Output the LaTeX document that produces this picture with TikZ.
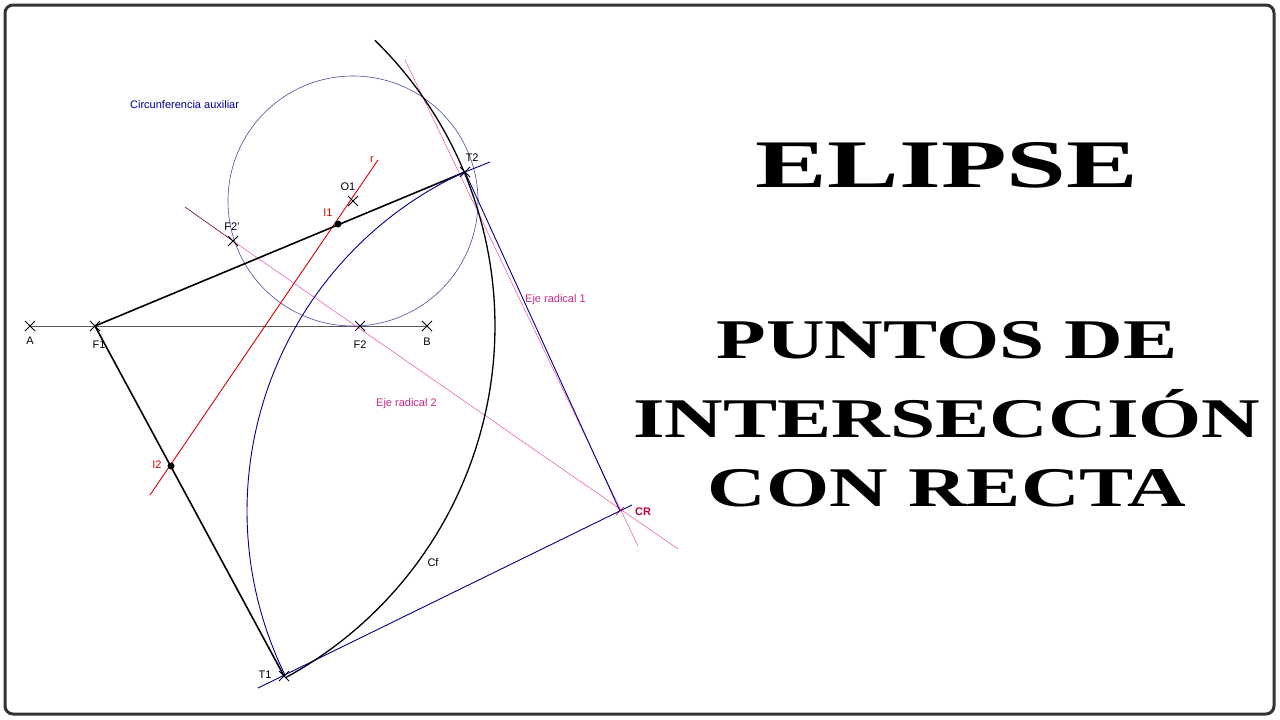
\documentclass[tikz,border=0pt]{standalone}
\usepackage{fontspec}
\setmainfont{Liberation Serif}
\setsansfont{Liberation Sans}
\usetikzlibrary{calc}
\begin{document}
\begin{tikzpicture}[x=1pt,y=-1pt,
 lbl/.style={font=\sffamily\fontsize{11}{11}\selectfont,inner sep=0pt},
 ttl/.style={font=\bfseries\fontsize{56}{56}\selectfont,inner sep=0pt,xscale=1.45},
 thk/.style={line width=1.6pt,black},
 bl/.style={line width=0.9pt,blue!55!black}]
\useasboundingbox (0,0) rectangle (1280,720);
\fill[white] (0,0) rectangle (1280,720);
\draw[line width=3pt,black!80,rounded corners=8pt] (5,5) rectangle (1274,714);
% points
\coordinate (A) at (30,326); \coordinate (B) at (427,326);
\coordinate (F1) at (95,326); \coordinate (F2) at (360,326);
\coordinate (O1) at (353,201); \coordinate (T2) at (465,172);
\coordinate (T1) at (284,676); \coordinate (F2p) at (233,241);
\coordinate (I1) at (338,224); \coordinate (I2) at (171,466);
\coordinate (CR) at (620,511);
\coordinate (r1) at (150,495); \coordinate (r2) at (378,160);
\coordinate (p1) at (185,207); \coordinate (p2) at (678,549);
\coordinate (e1) at (405,60); \coordinate (e2) at (638,546);
\coordinate (b1) at (490,162); \coordinate (b2) at (258,688); \coordinate (b3) at (632,505);
% lines
\draw[gray!70!black,line width=0.6pt] (A) -- (B);
\draw[blue!45!black!70,line width=0.6pt] (O1) circle (125);
\draw[red!85!black,line width=0.9pt] (r1) -- (r2);
\draw[purple!60!black,line width=0.6pt] (p1) -- (F2p);
\draw[magenta!70!white,line width=0.5pt] (F2p) -- (p2);
\draw[magenta!70!white,line width=0.5pt] (e1) -- (e2);
\draw[bl] (T2) -- (CR);
\draw[bl] (T2) -- (b1);
\draw[bl] (b2) -- (b3);
\draw[thk] (F1) -- (T2);
\draw[thk] (F1) -- (T1);
\draw[black,line width=1.3pt] plot[domain=-45.6:61.6,samples=80] ({95+400*cos(\x)},{326+400*sin(\x)});
\draw[bl] plot[domain=153.8:245.4,samples=80] ({620+373*cos(\x)},{511+373*sin(\x)});
% crosses
\foreach \p in {A,B,F1,F2,O1,T2,T1,F2p} {
 \draw[line width=1pt] ($(\p)+(-5,-5)$) -- ($(\p)+(5,5)$) ($(\p)+(-5,5)$) -- ($(\p)+(5,-5)$);
}
\fill (I1) circle (3.5); \fill (I2) circle (3.5);
\draw[purple] ($(CR)+(-4,4)$) -- ($(CR)+(4,-4)$);
% labels
\node[lbl,blue!60!black,anchor=west] (ca) at (130,105) {Circunferencia auxiliar};
\node[lbl,red!85!black] (lr) at (372,160) {r};
\node[lbl] (lO) at (348,187) {O1};
\node[lbl,red!85!black] (lI1) at (328,213) {I1};
\node[lbl] (lF2p) at (232,227) {F2'};
\node[lbl] (lA) at (30,341) {A};
\node[lbl] (lF1) at (99,345) {F1};
\node[lbl] (lF2) at (360,345) {F2};
\node[lbl] (lB) at (427,342) {B};
\node[lbl] (lT2) at (472,158) {T2};
\node[lbl,magenta!80!black,anchor=west] (le1) at (525,300) {Eje radical 1};
\node[lbl,magenta!80!black,anchor=west] (le2) at (376,404) {Eje radical 2};
\node[lbl,red!85!black] (lI2) at (157,465) {I2};
\node[lbl,purple,font=\sffamily\bfseries\fontsize{11}{11}\selectfont] (lCR) at (643,512) {CR};
\node[lbl] (lCf) at (433,563) {Cf};
\node[lbl] (lT1) at (265,675) {T1};
% title
\node[ttl,font=\bfseries\fontsize{68}{68}\selectfont,xscale=1.09] (t0) at (947,165) {ELIPSE};
\node[ttl] (t1) at (947,340) {PUNTOS DE};
\node[ttl] (t2) at (947,414) {INTERSECCIÓN};
\node[ttl] (t3) at (947,488) {CON RECTA};
\end{tikzpicture}
\end{document}
